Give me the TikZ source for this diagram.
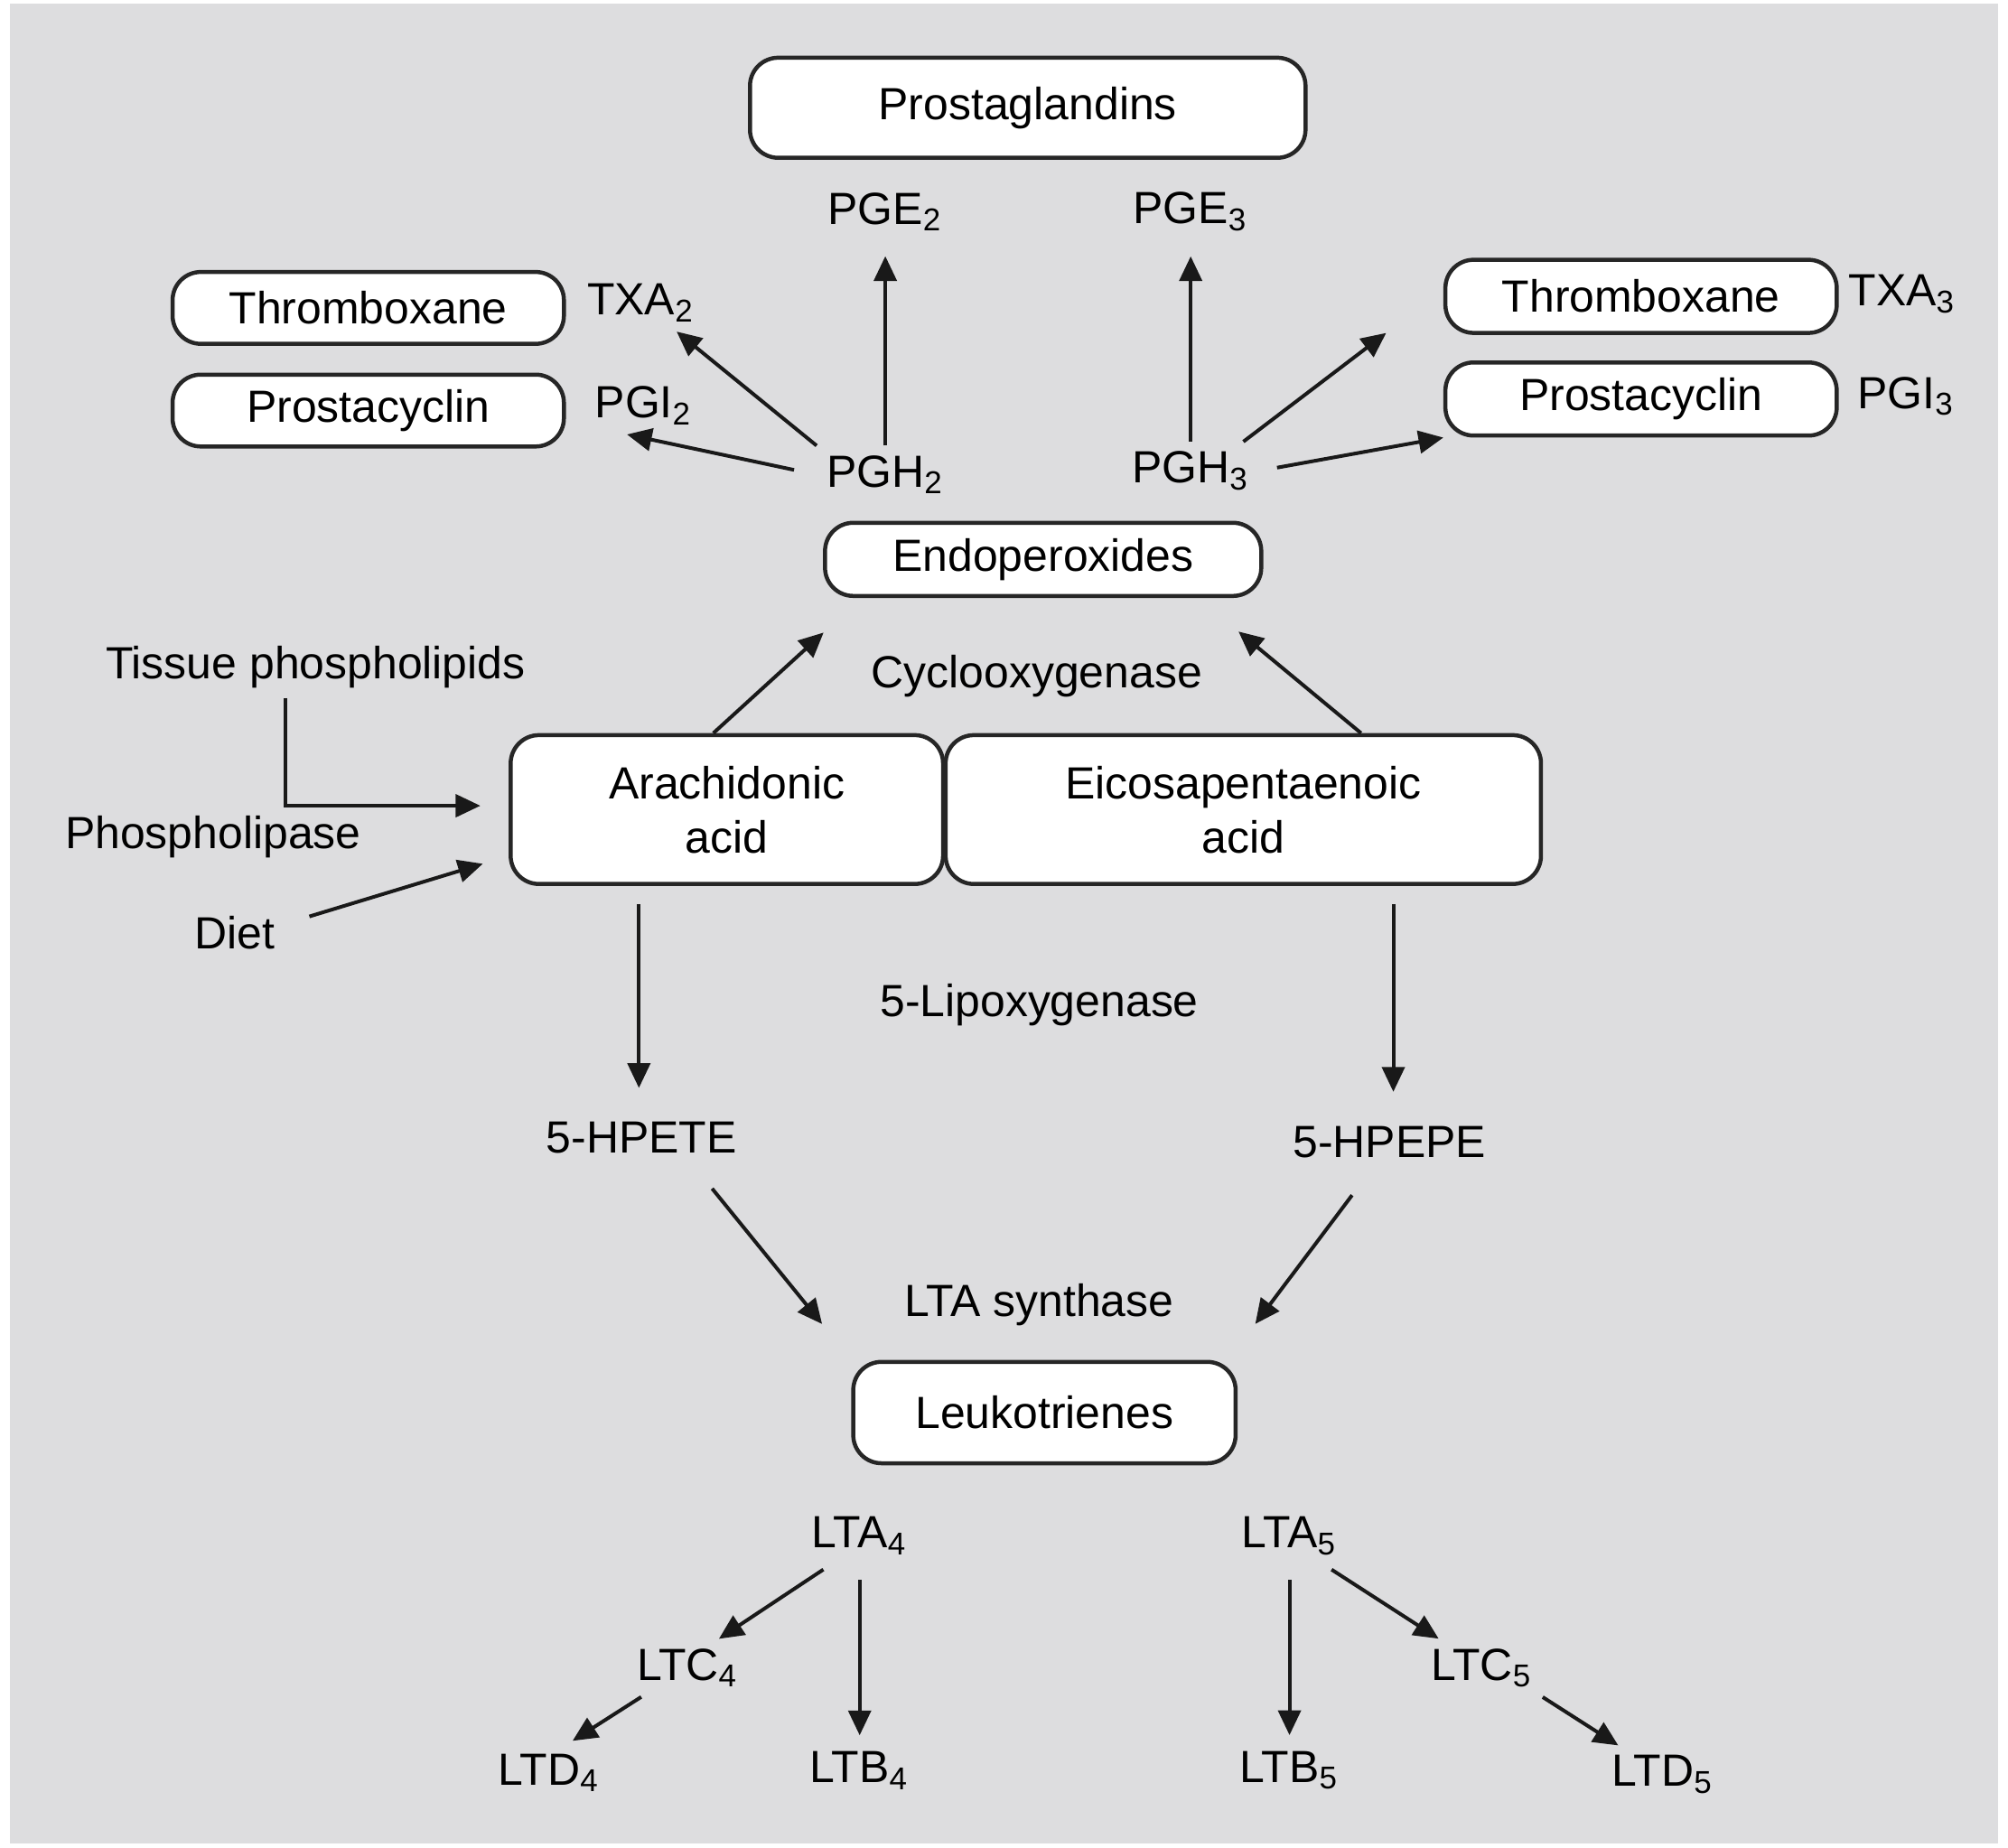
\documentclass[tikz,border=0pt]{standalone}
\usepackage{fontspec}
\setmainfont{Liberation Sans}
\usetikzlibrary{arrows.meta}
\definecolor{panelgray}{RGB}{221,221,223}

\begin{document}
\begin{tikzpicture}[
    box/.style={draw=black!85, line width=0.9pt, rounded corners=2.2mm, fill=white, inner sep=0pt, align=center},
    lbl/.style={inner sep=2pt},
    arr/.style={-{Triangle[length=5.5pt, width=5pt]}, line width=0.8pt, black!90}
  ]
    \useasboundingbox (0, 0) rectangle (15.65, 14.40);
    \fill [panelgray] (0.08, 0.03) rectangle (15.57, 14.37);
    % prostaglandins
    \node [box, minimum width=4.33cm, minimum height=0.78cm] (prost) at (8.01, 13.56) {Prostaglandins};
    \node [lbl] (pge2) at (6.90, 12.75) {PGE\textsubscript{2}};
    \node [lbl] (pge3) at (9.28, 12.75) {PGE\textsubscript{3}};
    \node [box, minimum width=3.05cm, minimum height=0.56cm] (throm2) at (2.87, 12.00) {Thromboxane};
    \node [box, minimum width=3.05cm, minimum height=0.56cm] (prcyc2) at (2.87, 11.20) {Prostacyclin};
    \node [lbl, anchor=west] (txa2) at (4.50, 12.04) {TXA\textsubscript{2}};
    \node [lbl, anchor=west] (pgi2) at (4.56, 11.24) {PGI\textsubscript{2}};
    \node [lbl] (pgh2) at (6.90, 10.70) {PGH\textsubscript{2}};
    \node [lbl] (pgh3) at (9.28, 10.73) {PGH\textsubscript{3}};
    \node [box, minimum width=3.05cm, minimum height=0.57cm] (throm3) at (12.79, 12.09) {Thromboxane};
    \node [box, minimum width=3.05cm, minimum height=0.57cm] (prcyc3) at (12.79, 11.29) {Prostacyclin};
    \node [lbl, anchor=west] (txa3) at (14.33, 12.11) {TXA\textsubscript{3}};
    \node [lbl, anchor=west] (pgi3) at (14.40, 11.31) {PGI\textsubscript{3}};
    \node [box, minimum width=3.40cm, minimum height=0.57cm] (endo) at (8.13, 10.04) {Endoperoxides};
    \node [lbl] (cox) at (8.08, 9.13) {Cyclooxygenase};
    \draw [arr] (pgh2.north west) to (txa2.-39);
    \draw [arr, shorten <=1.8mm] (pgh2.west) to (pgi2.-120);
    \draw [arr, shorten >=1.2mm] (pgh2.north) to (pge2.south);
    \draw [arr, shorten >=1.2mm] (pgh3.north) to (pge3.south);
    \draw [arr, shorten >=5.6mm] (pgh3.29) to (throm3.178);
    \draw [arr, shorten <=1.4mm] (pgh3.east) to (prcyc3.south west);
    % fatty acids
    \node [lbl] (tissue) at (2.46, 9.20) {Tissue phospholipids};
    \node [lbl] (plase) at (1.66, 7.88) {Phospholipase};
    \node [lbl] (diet) at (1.83, 7.13) {Diet};
    \node [box, minimum width=3.37cm, minimum height=1.16cm] (arach) at (5.665, 8.09) {Arachidonic\\acid};
    \node [box, minimum width=4.64cm, minimum height=1.16cm] (epa) at (9.69, 8.09) {Eicosapentaenoic\\acid};
    \draw [arr, shorten >=2.2mm] (tissue.226) |- (arach.179);
    \draw [arr, shorten <=2mm, shorten >=2.1mm] (diet.10) to (arach.192);
    \draw [arr, shorten >=4mm] (arach.100) to (endo.192);
    \draw [arr, shorten >=4.1mm] (epa.33) to (endo.-14);
    % leukotrienes
    \node [lbl] (lox) at (8.10, 6.57) {5-Lipoxygenase};
    \node [lbl] (hpete) at (5.00, 5.53) {5-HPETE};
    \node [lbl] (hpepe) at (10.83, 5.50) {5-HPEPE};
    \node [lbl] (ltas) at (8.10, 4.23) {LTA synthase};
    \node [box, minimum width=2.98cm, minimum height=0.79cm] (leuko) at (8.14, 3.39) {Leukotrienes};
    \draw [arr, shorten <=1.4mm, shorten >=1.9mm] (arach.221) to (arach.221 |- hpete.north);
    \draw [arr, shorten <=1.4mm, shorten >=1.9mm] (epa.-27) to (epa.-27 |- hpepe.north);
    \draw [arr, shorten <=2.5mm, shorten >=3.6mm] (hpete.-27) to (leuko.north west);
    \draw [arr, shorten <=2.7mm, shorten >=3.5mm] (hpepe.237) to (leuko.16);
    % series 4 and 5
    \node [lbl] (lta4) at (6.70, 2.43) {LTA\textsubscript{4}};
    \node [lbl] (lta5) at (10.05, 2.43) {LTA\textsubscript{5}};
    \node [lbl] (ltc4) at (5.36, 1.40) {LTC\textsubscript{4}};
    \node [lbl] (ltc5) at (11.55, 1.40) {LTC\textsubscript{5}};
    \node [lbl] (ltd4) at (4.28, 0.58) {LTD\textsubscript{4}};
    \node [lbl] (ltb4) at (6.70, 0.60) {LTB\textsubscript{4}};
    \node [lbl] (ltb5) at (10.05, 0.60) {LTB\textsubscript{5}};
    \node [lbl] (ltd5) at (12.96, 0.57) {LTD\textsubscript{5}};
    \draw [arr, shorten <=0.7mm] (lta4.225) to (ltc4.43);
    \draw [arr, shorten <=1.2mm, shorten >=0.5mm] (lta4.south) to (ltb4.north);
    \draw [arr, shorten >=0.5mm] (ltc4.212) to (ltd4.58);
    \draw [arr, shorten <=1.2mm, shorten >=0.5mm] (lta5.south) to (ltb5.north);
    \draw [arr, shorten <=0.7mm] (lta5.-40) to (ltc5.146);
    \draw [arr] (ltc5.south east) to (ltd5.147);
\end{tikzpicture}
\end{document}
